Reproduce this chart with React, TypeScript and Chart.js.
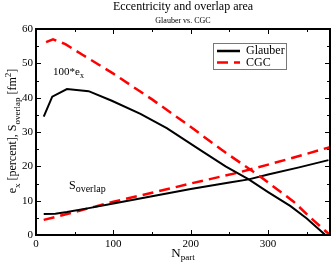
import React, { useEffect, useRef } from 'react';
import { Chart, registerables } from 'chart.js';

Chart.register(...registerables);

// ---- data ----
const glauberEccX = [10, 21, 40, 68, 98, 135, 169, 212, 245, 275, 300, 329, 350, 374];
const glauberEccY = [34.5, 40.3, 42.5, 41.9, 39.1, 35.3, 31.1, 24.8, 20.0, 16.2, 12.5, 8.4, 4.8, 0];

const cgcEccX = [13, 22, 38, 60, 100, 150, 195, 240, 290, 333, 355, 380];
const cgcEccY = [56.2, 57.0, 55.6, 52.5, 47.0, 39.5, 32.3, 24.8, 17.0, 9.7, 5.0, 0];

const glauberSX = [10, 25, 40, 70, 100, 150, 200, 250, 275, 300, 340, 378];
const glauberSY = [6.1, 6.2, 6.7, 7.9, 9.2, 11.3, 13.4, 15.3, 16.2, 17.6, 19.7, 21.8];

const cgcSX = [10, 50, 100, 150, 200, 260, 300, 340, 380];
const cgcSY = [4.4, 6.7, 9.7, 12.3, 15.0, 18.1, 20.5, 23.0, 25.6];

const xTickLabels = [0, 100, 200, 300];
const yTickLabels = [0, 10, 20, 30, 40, 50, 60];
const xMinorStep = 50;
const yMinorStep = 5;
const xRange = [0, 380];
const yRange = [0, 60];

const seriesNames = ['Glauber', 'CGC'];
const titleText = 'Eccentricity and overlap area';
const subtitleText = 'Glauber vs. CGC';

const FONT = '"Liberation Serif", "Times New Roman", serif';

type Part = { t: string; k?: 'sub' | 'sup' };

function drawRich(
  ctx: CanvasRenderingContext2D,
  parts: Part[],
  x: number,
  y: number,
  size: number,
  small: number,
  align: 'left' | 'center'
) {
  let w = 0;
  for (const p of parts) {
    ctx.font = `${p.k ? small : size}px ${FONT}`;
    w += ctx.measureText(p.t).width;
  }
  let cx = align === 'center' ? x - w / 2 : x;
  ctx.textAlign = 'left';
  ctx.textBaseline = 'alphabetic';
  for (const p of parts) {
    ctx.font = `${p.k ? small : size}px ${FONT}`;
    const dy = p.k === 'sub' ? size * 0.3 : p.k === 'sup' ? -size * 0.4 : 0;
    ctx.fillText(p.t, cx, y + dy);
    cx += ctx.measureText(p.t).width;
  }
}

const decorPlugin = {
  id: 'decor',
  afterDraw(chart: any) {
    const ctx: CanvasRenderingContext2D = chart.ctx;
    const { left, right, top, bottom } = chart.chartArea;
    const xs = chart.scales.x;
    const ys = chart.scales.y;
    ctx.save();
    ctx.fillStyle = '#000';
    ctx.strokeStyle = '#000';

    // ticks (inward on all four sides)
    ctx.lineWidth = 1;
    ctx.beginPath();
    for (let v = xRange[0]; v <= xRange[1]; v += xMinorStep) {
      const px = Math.round(xs.getPixelForValue(v)) + 0.5;
      const len = v % 100 === 0 ? 5 : 3;
      ctx.moveTo(px, bottom);
      ctx.lineTo(px, bottom - len);
      ctx.moveTo(px, top);
      ctx.lineTo(px, top + len);
    }
    for (let v = yRange[0]; v <= yRange[1]; v += yMinorStep) {
      const py = Math.round(ys.getPixelForValue(v)) + 0.5;
      const len = v % 10 === 0 ? 5 : 3;
      ctx.moveTo(left, py);
      ctx.lineTo(left + len, py);
      ctx.moveTo(right, py);
      ctx.lineTo(right - len, py);
    }
    ctx.stroke();

    // frame
    ctx.lineWidth = 2;
    ctx.strokeRect(left, top, right - left, bottom - top);

    // titles
    ctx.textAlign = 'center';
    ctx.textBaseline = 'alphabetic';
    const cx = (left + right) / 2;
    ctx.font = `12px ${FONT}`;
    ctx.fillText(titleText, cx, 10);
    ctx.font = `8px ${FONT}`;
    ctx.fillText(subtitleText, cx, 23);

    // x axis title
    drawRich(ctx, [{ t: 'N' }, { t: 'part', k: 'sub' }], cx, 256.5, 13, 9, 'center');

    // y axis title
    ctx.save();
    ctx.translate(16, (top + bottom) / 2 - 1);
    ctx.rotate(-Math.PI / 2);
    drawRich(
      ctx,
      [
        { t: 'e' },
        { t: 'x', k: 'sub' },
        { t: ' [percent], S' },
        { t: 'overlap', k: 'sub' },
        { t: ' [fm' },
        { t: '2', k: 'sup' },
        { t: ']' },
      ],
      0,
      0,
      12,
      9,
      'center'
    );
    ctx.restore();

    // annotations
    drawRich(ctx, [{ t: '100*e' }, { t: 'x', k: 'sub' }], 53, 75, 11, 8, 'left');
    drawRich(ctx, [{ t: 'S' }, { t: 'overlap', k: 'sub' }], 69, 188.5, 12, 10, 'left');

    // legend
    const lx = 213, ly = 43, lw = 73, lh = 26;
    ctx.fillStyle = '#fff';
    ctx.fillRect(lx, ly, lw, lh);
    ctx.lineWidth = 1;
    ctx.strokeStyle = '#777';
    ctx.strokeRect(lx + 0.5, ly + 0.5, lw, lh);
    ctx.lineWidth = 2.5;
    ctx.strokeStyle = '#000';
    ctx.beginPath();
    ctx.moveTo(217, 51);
    ctx.lineTo(240, 51);
    ctx.stroke();
    ctx.strokeStyle = '#ff0000';
    ctx.setLineDash([11, 6]);
    ctx.beginPath();
    ctx.moveTo(217, 62.5);
    ctx.lineTo(240, 62.5);
    ctx.stroke();
    ctx.setLineDash([]);
    ctx.fillStyle = '#000';
    ctx.font = `12px ${FONT}`;
    ctx.textAlign = 'left';
    ctx.textBaseline = 'middle';
    ctx.fillText(seriesNames[0], 246, 51);
    ctx.fillText(seriesNames[1], 246, 62.5);

    ctx.restore();
  },
};

function pts(xs: number[], ys: number[]) {
  return xs.map((x, i) => ({ x, y: ys[i] }));
}

export default function App() {
  const ref = useRef<HTMLCanvasElement | null>(null);
  useEffect(() => {
    if (!ref.current) return;
    const black = { borderColor: '#000000', borderWidth: 2, pointRadius: 0, tension: 0, fill: false };
    const red = {
      borderColor: '#ff0000',
      borderWidth: 2.5,
      borderDash: [11, 6],
      pointRadius: 0,
      tension: 0,
      fill: false,
    };
    const chart = new Chart(ref.current, {
      type: 'line',
      data: {
        datasets: [
          { label: seriesNames[0], data: pts(glauberEccX, glauberEccY), ...black },
          { label: seriesNames[1], data: pts(cgcEccX, cgcEccY), ...red },
          { label: seriesNames[0] + ' S', data: pts(glauberSX, glauberSY), ...black },
          { label: seriesNames[1] + ' S', data: pts(cgcSX, cgcSY), ...red },
        ],
      },
      options: {
        responsive: false,
        animation: false,
        layout: { padding: { top: 29, right: 2, left: 0, bottom: 0 } },
        plugins: { legend: { display: false }, tooltip: { enabled: false }, title: { display: false } },
        scales: {
          x: {
            type: 'linear',
            min: xRange[0],
            max: xRange[1],
            grid: { display: false, drawTicks: false },
            border: { display: false },
            ticks: { color: '#000', font: { family: FONT, size: 11 }, padding: 3, maxRotation: 0 },
            afterBuildTicks: (s: any) => {
              s.ticks = xTickLabels.map((v) => ({ value: v }));
            },
            afterFit: (s: any) => {
              s.height = 29;
            },
          },
          y: {
            type: 'linear',
            min: yRange[0],
            max: yRange[1],
            grid: { display: false, drawTicks: false },
            border: { display: false },
            ticks: { color: '#000', font: { family: FONT, size: 11 }, padding: 3 },
            afterBuildTicks: (s: any) => {
              s.ticks = yTickLabels.map((v) => ({ value: v }));
            },
            afterFit: (s: any) => {
              s.width = 36;
            },
          },
        },
      } as any,
      plugins: [decorPlugin],
    });
    return () => chart.destroy();
  }, []);
  return (
    <div style={{ position: 'absolute', left: 0, top: 0, width: 332, height: 264, background: '#fff' }}>
      <canvas ref={ref} width={332} height={264} />
    </div>
  );
}
